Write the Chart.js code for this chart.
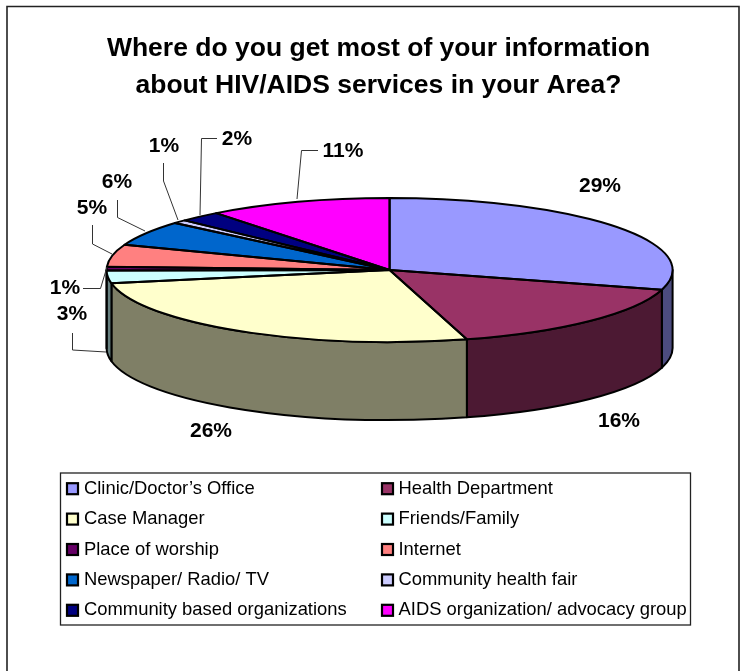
<!DOCTYPE html>
<html><head><meta charset="utf-8">
<style>html,body{margin:0;padding:0;background:#fff}canvas{display:block}</style>
<script src="https://cdn.jsdelivr.net/npm/chart.js@4/dist/chart.umd.min.js"></script>
</head><body>
<div style="width:740px;height:671px"><canvas id="c" width="740" height="671"></canvas></div>
<script>
const categories = ["Clinic/Doctor\u2019s Office","Health Department","Case Manager","Friends/Family","Place of worship","Internet","Newspaper/ Radio/ TV","Community health fair","Community based organizations","AIDS organization/ advocacy group"];
const shares = [29.4,16.2,26.45,2.85,0.8,5.0,5.6,0.8,2.4,10.5];
const topColors = ["#9999FF","#993366","#FFFFCC","#CCFFFF","#660066","#FF8080","#0066CC","#CCCCFF","#000080","#FF00FF"];
const titleLines = ["Where do you get most of your information","about HIV/AIDS services in your Area?"];

const tilt = {cy:270, ry:72, depth:78};
// label placement, one per slice
const labelPlaces = [
  {x:600,y:186},{x:619,y:421},{x:211,y:431},{x:72,y:314,lead:[[72.5,333],[72.5,350],[106,352]]},
  {x:65,y:288,lead:[[83,288.5],[100.5,288.5],[107,267]]},{x:92,y:208,lead:[[92.5,225],[92.5,244],[112,254]]},
  {x:117,y:182,lead:[[117.5,200],[117.5,217.5],[145,231]]},{x:164,y:146,lead:[[163.5,163],[163.5,181],[178,220]]},
  {x:237,y:139,lead:[[217,138.5],[201.5,138.5],[200,215]]},{x:343,y:151,lead:[[318,150.5],[301.5,150.5],[297,199]]}
];
const font = '"Liberation Sans",Arial,sans-serif';
function half(hex){const n=parseInt(hex.slice(1),16);return `rgb(${(n>>16&255)>>1},${(n>>8&255)>>1},${(n&255)>>1})`;}

const pie3d = {
  id:'pie3d',
  afterLayout(chart){
    // the title is centred on the outer frame, not on the pie
    chart.titleBlock.left=0; chart.titleBlock.right=757;
  },
  beforeDatasetsDraw(chart){
    const ctx=chart.ctx, arcs=chart.getDatasetMeta(0).data, a0=arcs[0], R=a0.outerRadius;
    const {cy,ry,depth}=tilt;
    ctx.save();
    ctx.strokeStyle='#000';ctx.lineWidth=2;ctx.lineJoin='round';
    arcs.forEach((arc,i)=>{
      const s=Math.max(arc.startAngle,0), e=Math.min(arc.endAngle,Math.PI);
      if(e<=s) return;
      ctx.beginPath();
      ctx.ellipse(arc.x,cy,R,ry,0,s,e);
      ctx.ellipse(arc.x,cy+depth,R,ry,0,e,s,true);
      ctx.closePath();
      ctx.fillStyle=half(topColors[i]);ctx.fill();ctx.stroke();
    });
    ctx.restore();
    ctx.save();
    ctx.translate(0,cy);ctx.scale(1,ry/R);ctx.translate(0,-a0.y);
  },
  afterDatasetsDraw(chart){
    const ctx=chart.ctx, arcs=chart.getDatasetMeta(0).data, R=arcs[0].outerRadius;
    ctx.restore();
    const {cy,ry}=tilt;
    ctx.save();
    ctx.strokeStyle='#000';ctx.lineWidth=2;ctx.lineJoin='round';
    arcs.forEach(arc=>{
      ctx.beginPath();ctx.moveTo(arc.x,cy);
      ctx.ellipse(arc.x,cy,R,ry,0,arc.startAngle,arc.endAngle);
      ctx.closePath();ctx.stroke();
    });
    // leaders and percentage labels
    const total=shares.reduce((a,b)=>a+b,0);
    ctx.fillStyle='#000';ctx.font='bold 21px '+font;ctx.textAlign='center';ctx.textBaseline='middle';
    shares.forEach((v,i)=>{
      const p=labelPlaces[i];
      if(p.lead){
        ctx.strokeStyle='#333';ctx.lineWidth=1;ctx.beginPath();
        p.lead.forEach((q,k)=>k?ctx.lineTo(q[0],q[1]):ctx.moveTo(q[0],q[1]));ctx.stroke();
      }
      ctx.fillText(Math.round(v/total*100+1e-6)+'%',p.x,p.y);
    });
    ctx.restore();
  },
  afterDraw(chart){
    const ctx=chart.ctx;
    ctx.save();
    // legend frame
    ctx.strokeStyle='#222';ctx.lineWidth=1.3;ctx.strokeRect(60.5,473,630,152);
    ctx.textBaseline='middle';ctx.textAlign='left';ctx.font='18.4px '+font;
    categories.forEach((t,i)=>{
      const col=i%2, row=(i-col)/2, bx=col?382:67, y=488.7+row*30.4;
      ctx.fillStyle=topColors[i];ctx.strokeStyle='#000';ctx.lineWidth=2.2;
      ctx.fillRect(bx,y-5.5,11,11);ctx.strokeRect(bx,y-5.5,11,11);
      ctx.fillStyle='#000';ctx.fillText(t,col?398.5:84,y);
    });
    // outer frame: its bottom edge falls outside the picture
    ctx.strokeStyle='#222';ctx.lineWidth=1.6;
    ctx.beginPath();ctx.moveTo(7,671);ctx.lineTo(7,6.5);ctx.lineTo(739,6.5);ctx.lineTo(739,671);ctx.stroke();
    ctx.restore();
  }
};

new Chart(document.getElementById('c'),{
  type:'pie',
  data:{labels:categories,datasets:[{data:shares,backgroundColor:topColors,borderWidth:0}]},
  options:{
    responsive:false,animation:false,
    layout:{padding:{left:106.6,right:67.4,top:0,bottom:0}},
    plugins:{
      legend:{display:false},tooltip:{enabled:false},
      title:{display:true,text:titleLines,color:'#000',font:{family:font,size:26.5,weight:'bold',lineHeight:1.4},padding:{top:30,bottom:0},fullSize:true}
    }
  },
  plugins:[pie3d]
});
</script>
</body></html>
